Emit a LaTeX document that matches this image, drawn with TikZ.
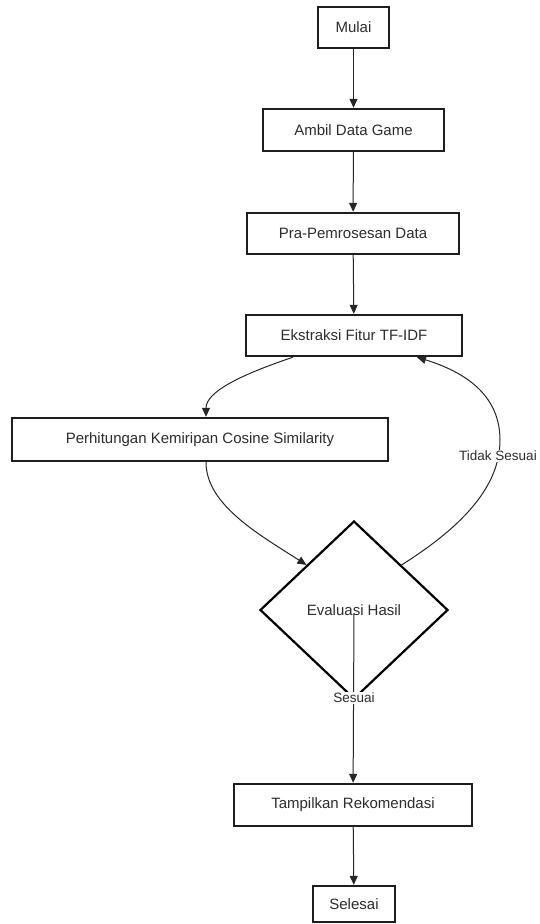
\documentclass[tikz,border=0pt]{standalone}
\usepackage{fontspec}
\setmainfont{Liberation Sans}
\usetikzlibrary{arrows.meta,shapes.geometric}
\definecolor{txt}{RGB}{45,45,45}
\definecolor{bord}{RGB}{30,30,30}
\tikzset{
  procbox/.style={draw=bord, line width=2.4pt, fill=white, rectangle, inner sep=0pt,
    text=txt, font=\fontsize{15}{18}\selectfont},
  decbox/.style={draw=black, line width=2.2pt, diamond, inner sep=0pt,
    minimum width=188pt, minimum height=178pt, text=txt, font=\fontsize{15}{18}\selectfont},
  conn/.style={draw=black!85, line width=1pt, -{Triangle[length=9pt,width=8pt]}},
  lbl/.style={fill=white, inner sep=1pt, text=txt, font=\fontsize{13.5}{16}\selectfont}
}
\begin{document}
\begin{tikzpicture}[x=1pt,y=-1pt]
\useasboundingbox[fill=white] (0,0) rectangle (539,924);
\node[procbox, minimum width=71pt, minimum height=41pt] (mulai) at (353.5,27.5) {Mulai};
\node[procbox, minimum width=181pt, minimum height=42pt] (ambil) at (353.5,130) {Ambil Data Game};
\node[procbox, minimum width=212pt, minimum height=41pt] (pra) at (353,233.5) {Pra-Pemrosesan Data};
\node[procbox, minimum width=216pt, minimum height=41pt] (ekstr) at (354,335.5) {Ekstraksi Fitur TF-IDF};
\node[procbox, minimum width=376pt, minimum height=43pt] (perh) at (200,439.5) {Perhitungan Kemiripan Cosine Similarity};
\node[decbox] (eval) at (354,610) {Evaluasi Hasil};
\node[procbox, minimum width=238pt, minimum height=42pt] (tamp) at (353,805) {Tampilkan Rekomendasi};
\node[procbox, minimum width=82pt, minimum height=36pt] (sel) at (354,904) {Selesai};
\coordinate (evs) at (354,614);

\draw[conn] (mulai) -- (ambil);
\draw[conn] (ambil) -- (pra);
\draw[conn] (pra) -- (ekstr);
\draw[conn] ([xshift=-61pt]ekstr.south) .. controls (240,375) and (206,392) .. ([xshift=6pt]perh.north);
\draw[conn] ([xshift=6pt]perh.south) .. controls (206,505) and (260,535) .. (eval.north west);
\draw[conn] (eval.north east) .. controls (465,525) and (500,485) .. (500,440)
  .. controls (500,395) and (465,372) .. ([xshift=63pt]ekstr.south);
\node[lbl] (tidak) at (498,456) {Tidak Sesuai};
\draw[conn] (evs) -- (tamp);
\node[lbl] (sesuai) at (354,698) {Sesuai};
\draw[conn] (tamp) -- (sel);
\end{tikzpicture}
\end{document}
